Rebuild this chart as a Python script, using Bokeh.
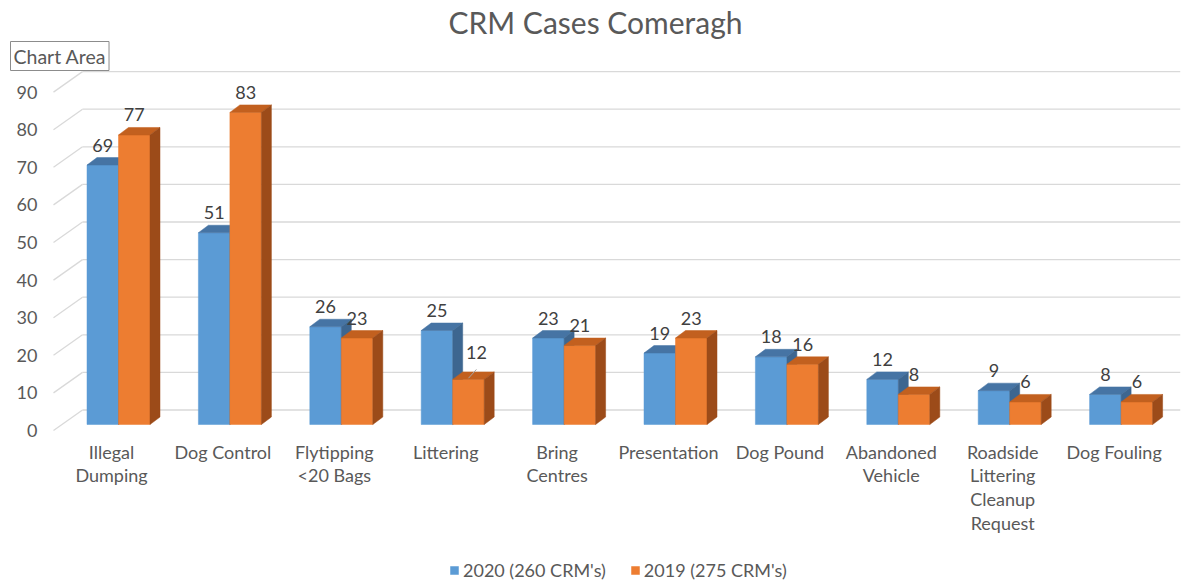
from bokeh.plotting import figure
from bokeh.models import Range1d, LinearAxis, FixedTicker, Legend, LegendItem, Title
from bokeh.embed import file_html
from bokeh.resources import INLINE
from bokeh.core.properties import value

# ---------------- data ----------------
title_text = "CRM Cases Comeragh"
categories = ["Illegal\nDumping", "Dog Control", "Flytipping\n<20 Bags", "Littering",
              "Bring\nCentres", "Presentation", "Dog Pound", "Abandoned\nVehicle",
              "Roadside\nLittering\nCleanup\nRequest", "Dog Fouling"]
series_names = ["2020 (260 CRM's)", "2019 (275 CRM's)"]
values_2020 = [69, 51, 26, 25, 23, 19, 18, 12, 9, 8]
values_2019 = [77, 83, 23, 12, 21, 23, 16, 8, 6, 6]
y_ticks = [0, 10, 20, 30, 40, 50, 60, 70, 80, 90]

# ---------------- layout / style constants ----------------
FONT = "Lato"
W_TOTAL, H_TOTAL = 1188, 582
FRAME_LEFT, FRAME_RIGHT, FRAME_TOP, FRAME_BOTTOM = 44, 1180, 70, 582
AXIS_ZERO = 430        # canvas y of the value axis' zero
FRAME_W = FRAME_RIGHT - FRAME_LEFT
FRAME_H = FRAME_BOTTOM - FRAME_TOP
PX_X = 111.4           # pixels per category
PX_Y = 3.76            # pixels per value unit
CAT0 = 118             # canvas x of first category centre
BAR_BASE_SHIFT = 6     # bars' zero sits this many px above axis zero

x_start = (FRAME_LEFT - CAT0) / PX_X
x_end = x_start + FRAME_W / PX_X
lab_start = -(FRAME_BOTTOM - AXIS_ZERO) / PX_Y
lab_end = lab_start + FRAME_H / PX_Y
bar_start = lab_start - BAR_BASE_SHIFT / PX_Y
bar_end = lab_end - BAR_BASE_SHIFT / PX_Y

BAR_W = 31.5 / PX_X
DEPTH_X = 10 / PX_X
DEPTH_Y = 7.5 / PX_Y
GRID_X0 = (53 - CAT0) / PX_X
GRID_X1 = (82 - CAT0) / PX_X
GRID_DY = 20.5 / PX_Y

BLUE = ("#5B9BD5", "#4674A4", "#3D6690")
ORANGE = ("#ED7D31", "#C2601F", "#9C4B19")
GRID_COLOR = "#D9D9D9"
TEXT_COLOR = "#595959"
LABEL_COLOR = "#404040"

p = figure(frame_width=FRAME_W, frame_height=FRAME_H,
           x_range=Range1d(x_start, x_end), y_range=Range1d(bar_start, bar_end),
           output_backend="svg", toolbar_location=None,
           x_axis_location=None, y_axis_location=None,
           min_border_left=FRAME_LEFT, min_border_right=W_TOTAL - FRAME_RIGHT,
           min_border_top=FRAME_TOP, min_border_bottom=0)
p.extra_y_ranges = {"lab": Range1d(lab_start, lab_end)}
p.outline_line_color = None
p.xgrid.visible = False
p.ygrid.visible = False
p.background_fill_color = "white"
p.border_fill_color = "white"

# title
p.title.text = title_text
p.title.align = "left"
p.title.offset = 404
p.title.text_font = FONT
p.title.text_font_size = "30px"
p.title.text_font_style = "normal"
p.title.text_color = TEXT_COLOR
p.title.standoff = 0

# "Chart Area" tooltip box, as a second boxed title above the plot area
box = Title(text="Chart Area", align="left", offset=10 - FRAME_LEFT, standoff=0,
            text_font=FONT, text_font_size="19.5px", text_font_style="normal",
            text_color=TEXT_COLOR, background_fill_color="white",
            border_line_color="#8C8C8C", border_line_width=1, padding=3)
p.add_layout(box, "above")

# y axis (value labels)
yax = LinearAxis(y_range_name="lab", ticker=FixedTicker(ticks=y_ticks))
yax.axis_line_color = None
yax.major_tick_line_color = None
yax.minor_tick_line_color = None
yax.major_tick_out = 0
yax.major_label_standoff = 7
yax.major_label_text_font = FONT
yax.major_label_text_font_size = "18px"
yax.major_label_text_color = TEXT_COLOR
p.add_layout(yax, "left")

# category labels under the value axis' zero, placed through the x scale
cat_x = [i - 7 / PX_X for i in range(len(categories))]
p.text(x=cat_x, y=[0] * len(categories), text=categories, y_range_name="lab",
       text_font=value(FONT), text_font_size="18px", text_color=TEXT_COLOR,
       text_align="center", text_baseline="top", text_line_height=1.09, y_offset=10)

# 3D gridlines (back wall + side wall diagonals)
p.segment(x0=[GRID_X1] * len(y_ticks), y0=[t + GRID_DY for t in y_ticks],
          x1=[x_end] * len(y_ticks), y1=[t + GRID_DY for t in y_ticks],
          y_range_name="lab", line_color=GRID_COLOR, line_width=1.3)
p.segment(x0=[GRID_X0] * len(y_ticks), y0=y_ticks,
          x1=[GRID_X1] * len(y_ticks), y1=[t + GRID_DY for t in y_ticks],
          y_range_name="lab", line_color=GRID_COLOR, line_width=1.3)


def draw_series(vals, x_lefts, colors):
    front, top, side = colors
    x_rights = [x + BAR_W for x in x_lefts]
    r = p.quad(left=x_lefts, right=x_rights, bottom=[0] * len(vals), top=vals,
               fill_color=front, line_color=front, line_width=0.5)
    top_xs, top_ys, side_xs, side_ys = [], [], [], []
    for x0, x1, v in zip(x_lefts, x_rights, vals):
        top_xs.append([x0, x1, x1 + DEPTH_X, x0 + DEPTH_X])
        top_ys.append([v, v, v + DEPTH_Y, v + DEPTH_Y])
        side_xs.append([x1, x1, x1 + DEPTH_X, x1 + DEPTH_X])
        side_ys.append([0, v, v + DEPTH_Y, DEPTH_Y])
    p.patches(top_xs, top_ys, fill_color=top, line_color=top, line_width=0.5)
    p.patches(side_xs, side_ys, fill_color=side, line_color=side, line_width=0.5)
    return r


idx = list(range(len(categories)))
r_blue = draw_series(values_2020, [i - BAR_W for i in idx], BLUE)
r_orange = draw_series(values_2019, [float(i) for i in idx], ORANGE)

# data labels
blue_cx = [i - BAR_W / 2 for i in idx]
orange_cx = [i + BAR_W / 2 for i in idx]
p.text(x=blue_cx, y=values_2020, text=[str(v) for v in values_2020],
       text_font=value(FONT), text_font_size="18px", text_color=LABEL_COLOR,
       text_align="center", text_baseline="middle", y_offset=-20)

normal_x, normal_y, normal_t = [], [], []
moved_x, moved_y, moved_t = [], [], []
for cx, vb, vo in zip(orange_cx, values_2020, values_2019):
    if vb - vo >= 10:
        moved_x.append(cx); moved_y.append(vo); moved_t.append(str(vo))
    else:
        normal_x.append(cx); normal_y.append(vo); normal_t.append(str(vo))
p.text(x=normal_x, y=normal_y, text=normal_t,
       text_font=value(FONT), text_font_size="18px", text_color=LABEL_COLOR,
       text_align="center", text_baseline="middle", y_offset=-20)
p.text(x=moved_x, y=moved_y, text=moved_t,
       text_font=value(FONT), text_font_size="18px", text_color=LABEL_COLOR,
       text_align="center", text_baseline="middle", x_offset=8, y_offset=-27)
p.segment(x0=moved_x, y0=[v + 0.3 for v in moved_y],
          x1=[x + 8 / PX_X for x in moved_x], y1=[v + 10 / PX_Y for v in moved_y],
          line_color="#A6A6A6", line_width=1)

# series legend (bottom of the chart, inside the plot region)
legend = Legend(items=[LegendItem(label=series_names[0], renderers=[r_blue]),
                       LegendItem(label=series_names[1], renderers=[r_orange])],
                orientation="horizontal", location=(449 - FRAME_LEFT, 1),
                glyph_width=10, glyph_height=10, label_standoff=4, spacing=24,
                padding=0, margin=0, border_line_color=None, background_fill_alpha=0,
                label_text_font=FONT, label_text_font_size="18px",
                label_text_color=TEXT_COLOR, label_height=18)
p.add_layout(legend, "center")

open("out.html", "w").write(file_html(p, INLINE))
